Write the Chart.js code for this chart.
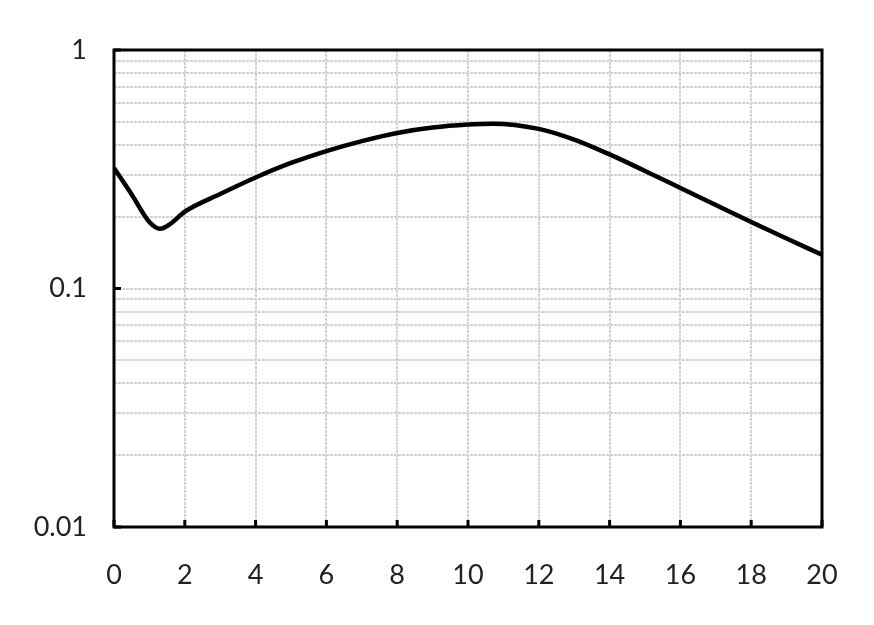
<!DOCTYPE html>
<html>
<head>
<meta charset="utf-8">
<script src="https://cdn.jsdelivr.net/npm/chart.js@4.4.1/dist/chart.umd.min.js"></script>
<style>
  html, body { margin: 0; padding: 0; background: #ffffff; }
  #wrap { width: 874px; height: 625px; }
</style>
</head>
<body>
<div id="wrap"><canvas id="c" width="874" height="625"></canvas></div>
<script>
// Data
const xValues = [0, 0.5, 1, 1.3, 1.6, 2, 3, 4, 5, 6, 7, 8, 9, 10, 10.7, 12, 13, 14, 15, 16, 17, 18, 19, 20];
const yValues = [0.32, 0.248, 0.19, 0.178, 0.187, 0.210, 0.249, 0.292, 0.336, 0.377, 0.415, 0.449, 0.473, 0.487, 0.491, 0.467, 0.421, 0.365, 0.311, 0.264, 0.224, 0.190, 0.162, 0.1385];
const xTicks = [0, 2, 4, 6, 8, 10, 12, 14, 16, 18, 20];
const yMajorTicks = [0.01, 0.1, 1];
const yMinorTicks = [0.02, 0.03, 0.04, 0.05, 0.06, 0.07, 0.08, 0.09, 0.2, 0.3, 0.4, 0.5, 0.6, 0.7, 0.8, 0.9];

const points = xValues.map((x, i) => ({ x: x, y: yValues[i] }));
const FONT = "Lato, 'Open Sans', sans-serif";

const frame = {
  id: 'frame',
  afterDatasetsDraw(chart) {
    const { ctx, chartArea: a, scales } = chart;
    ctx.save();
    ctx.strokeStyle = '#000';
    ctx.lineWidth = 3;
    ctx.beginPath();
    xTicks.forEach(v => {
      const px = scales.x.getPixelForValue(v);
      ctx.moveTo(px, a.bottom);
      ctx.lineTo(px, a.bottom - 7);
    });
    yMajorTicks.forEach(v => {
      const py = scales.y.getPixelForValue(v);
      ctx.moveTo(a.left, py);
      ctx.lineTo(a.left + 7, py);
    });
    ctx.stroke();
    ctx.strokeRect(a.left, a.top, a.right - a.left, a.bottom - a.top);
    ctx.restore();
  }
};

new Chart(document.getElementById('c'), {
  type: 'scatter',
  data: {
    datasets: [{
      data: points,
      showLine: true,
      borderColor: '#000',
      borderWidth: 4.5,
      pointRadius: 0,
      cubicInterpolationMode: 'monotone',
      fill: false
    }]
  },
  options: {
    responsive: false,
    animation: false,
    layout: { padding: { top: 50, right: 52, left: 0, bottom: 0 } },
    plugins: { legend: { display: false }, tooltip: { enabled: false } },
    scales: {
      x: {
        type: 'linear',
        min: 0, max: 20,
        afterBuildTicks: s => { s.ticks = xTicks.map(v => ({ value: v })); },
        afterFit: s => { s.height = 98; },
        grid: { color: '#d2d2d2', lineWidth: 2, drawTicks: false },
        border: { display: false, dash: [3, 1] },
        ticks: { color: '#222', padding: 32, font: { family: FONT, size: 27 }, maxRotation: 0 }
      },
      y: {
        type: 'logarithmic',
        min: 0.01, max: 1,
        afterBuildTicks: s => {
          s.ticks = yMajorTicks.concat(yMinorTicks).sort((a, b) => a - b).map(v => ({ value: v }));
        },
        afterFit: s => { s.width = 114; },
        grid: { color: '#d2d2d2', lineWidth: 2, drawTicks: false },
        border: { display: false, dash: [3, 1] },
        ticks: {
          color: '#222', padding: 27, font: { family: FONT, size: 27 },
          autoSkip: false,
          callback: v => (yMajorTicks.includes(v) ? String(v) : '')
        }
      }
    }
  },
  plugins: [frame]
});
</script>
</body>
</html>
